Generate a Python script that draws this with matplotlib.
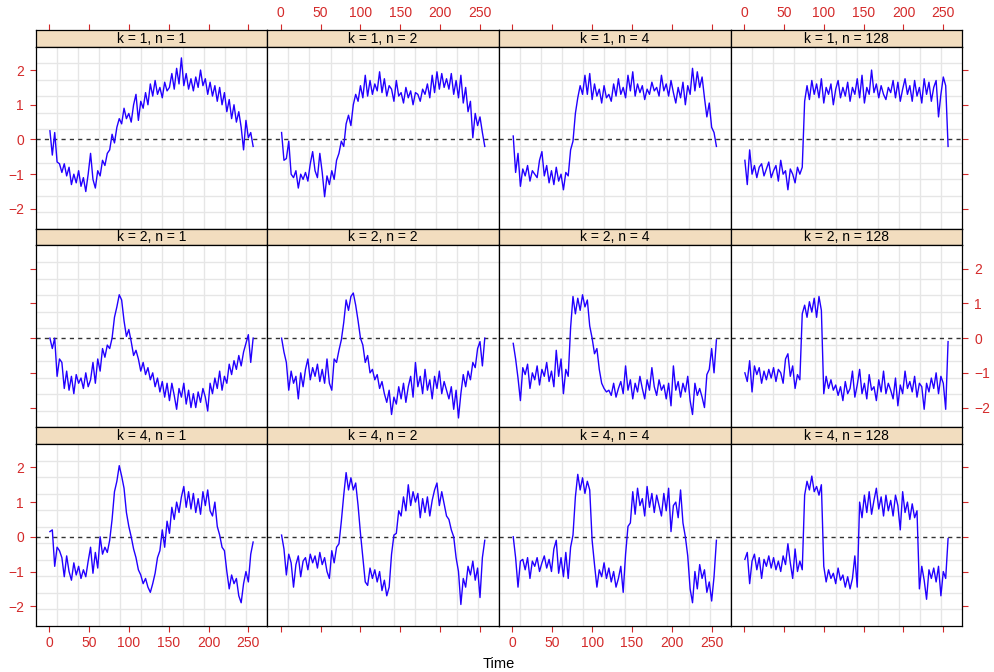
import numpy as np
import matplotlib
matplotlib.use("Agg")
import matplotlib.pyplot as plt

plt.rcParams['font.family'] = ['Liberation Sans', 'DejaVu Sans']

# time points, one reading every 3 steps
time = np.arange(1, 257, 3)
k_vals = [1, 2, 4]
n_vals = [1, 2, 4, 128]
x_ticks = [0, 50, 100, 150, 200, 250]
y_ticks = [-2, -1, 0, 1, 2]

k1_n1 = [0.25, -0.45, 0.2, -0.65, -0.7, -0.95, -0.7, -1.05, -0.8, -1.3,
         -1.0, -1.25, -0.9, -1.35, -1.1, -1.5, -1.0, -0.4, -1.15, -1.4,
         -0.9, -1.05, -0.6, -0.75, -0.4, -0.3, 0.15, -0.1, 0.35, 0.6,
         0.45, 0.9, 0.6, 0.75, 0.5, 1.0, 1.3, 0.55, 1.1, 0.9,
         1.35, 1.0, 1.6, 1.25, 1.7, 1.3, 1.5, 1.2, 1.65, 1.4,
         1.5, 1.9, 1.45, 2.05, 1.6, 2.35, 1.55, 1.9, 1.45, 1.75,
         1.4, 1.8, 1.5, 2.0, 1.55, 1.75, 1.3, 1.65, 1.25, 1.55,
         1.1, 1.5, 1.0, 1.35, 0.8, 1.15, 0.6, 1.0, 0.5, 0.8,
         0.35, -0.3, 0.55, 0.05, 0.2, -0.2]
k1_n2 = [0.2, -0.6, -0.55, -0.05, -1.0, -1.1, -0.9, -1.4, -1.0, -1.15,
         -0.95, -1.2, -0.7, -0.35, -0.9, -1.1, -0.4, -0.95, -1.65, -1.05,
         -1.3, -0.9, -1.15, -0.6, -0.4, -0.05, -0.2, 0.45, 0.7, 0.4,
         1.0, 1.3, 1.1, 1.55, 1.2, 1.85, 1.25, 1.7, 1.3, 1.6,
         1.4, 1.95, 1.35, 1.75, 1.25, 1.55, 1.45, 1.1, 1.7, 1.25,
         1.35, 1.05, 1.5, 1.2, 1.4, 1.0, 1.35, 1.3, 1.1, 1.45,
         1.3, 1.6, 1.2, 1.85, 1.35, 1.95, 1.45, 1.9, 1.5, 1.75,
         1.45, 1.9, 1.3, 1.7, 1.2, 1.85, 1.05, 1.5, 0.8, 1.1,
         0.05, 0.75, 0.4, 0.65, 0.2, -0.2]
k1_n4 = [0.1, -0.95, -0.4, -1.35, -0.85, -1.05, -0.75, -1.2, -0.9, -1.0,
         -1.1, -0.6, -0.35, -1.05, -0.75, -1.25, -0.9, -1.3, -0.8, -1.2,
         -1.0, -1.45, -0.95, -1.05, -0.3, -0.05, 0.75, 1.2, 1.55, 1.3,
         1.85, 1.3, 1.9, 1.15, 1.6, 1.25, 1.45, 1.05, 1.55, 1.2,
         1.3, 1.1, 1.6, 1.25, 1.75, 1.3, 1.5, 1.2, 1.85, 1.4,
         1.95, 1.25, 1.6, 1.35, 1.55, 1.15, 1.45, 1.3, 1.65, 1.4,
         1.5, 1.25, 1.85, 1.4, 1.6, 1.25, 1.7, 1.35, 1.05, 1.5,
         1.2, 1.65, 1.0, 1.55, 1.3, 2.05, 1.4, 1.95, 1.5, 1.8,
         1.2, 0.65, 1.05, 0.35, 0.2, -0.2]
k1_n128 = [-0.6, -1.3, -0.3, -1.0, -0.75, -1.1, -0.8, -0.7, -1.05, -0.85,
           -0.65, -1.1, -0.9, -0.75, -1.2, -0.6, -1.0, -0.9, -1.45, -0.85,
           -1.0, -1.25, -0.8, -1.0, -0.8, 1.1, 1.55, 1.15, 1.7, 1.3,
           1.6, 1.2, 1.75, 1.05, 1.5, 1.3, 1.6, 1.0, 1.45, 1.7,
           1.2, 1.5, 1.25, 1.65, 1.1, 1.5, 1.3, 1.75, 1.2, 1.85,
           1.05, 1.5, 1.3, 2.0, 1.35, 1.6, 1.2, 1.55, 1.3, 1.15,
           1.5, 1.35, 1.7, 1.2, 1.65, 1.1, 1.45, 1.75, 1.3, 1.55,
           1.1, 1.7, 1.25, 1.5, 1.05, 1.75, 1.3, 1.65, 1.1, 1.5,
           1.7, 0.65, 1.3, 1.8, 1.55, -0.2]

k2_n1 = [0.0, -0.3, 0.0, -1.1, -0.6, -0.7, -1.45, -0.95, -1.5, -1.1,
         -1.6, -1.05, -1.3, -1.15, -1.45, -1.0, -1.4, -1.2, -0.7, -1.3,
         -0.6, -0.95, -0.3, -0.55, -0.2, -0.3, 0.0, 0.6, 0.9, 1.25,
         1.1, 0.5, 0.05, 0.25, -0.1, -0.5, -0.35, -0.6, -0.95, -0.7,
         -1.05, -0.85, -1.2, -1.0, -1.4, -1.15, -1.55, -1.25, -1.7, -1.3,
         -1.8, -1.3, -1.65, -2.05, -1.45, -1.7, -1.3, -1.9, -1.5, -2.0,
         -1.6, -2.0, -1.55, -1.85, -1.45, -1.7, -2.1, -1.3, -1.6, -1.15,
         -1.45, -0.95, -1.5, -1.1, -1.3, -0.75, -1.05, -0.65, -0.9, -0.5,
         -0.8, -0.4, -0.15, 0.1, -0.7, 0.0]
k2_n2 = [0.0, -0.4, -0.7, -1.5, -0.95, -1.3, -1.1, -1.75, -1.0, -1.4,
         -0.9, -0.6, -1.2, -0.85, -1.1, -0.75, -1.25, -0.9, -1.3, -0.6,
         -1.3, -1.5, -0.6, -0.7, -0.35, -0.05, 0.45, 1.1, 0.8, 1.2,
         1.3, 0.95, 0.5, 0.0, -0.2, -0.7, -0.5, -1.0, -0.9, -1.2,
         -1.05, -1.45, -1.25, -1.6, -1.85, -1.5, -2.2, -1.7, -1.9, -1.4,
         -1.75, -1.3, -1.85, -1.4, -1.1, -1.7, -0.7, -1.4, -1.1, -1.6,
         -0.9, -1.5, -1.2, -1.75, -1.1, -1.45, -0.95, -1.6, -1.25, -1.5,
         -1.75, -1.4, -2.05, -1.5, -2.3, -1.6, -1.05, -1.4, -0.95, -1.2,
         -0.7, -0.85, -0.3, -0.1, -0.8, 0.0]
k2_n4 = [-0.15, -0.6, -1.15, -1.8, -0.85, -1.05, -0.75, -1.45, -1.0, -1.2,
         -0.8, -1.35, -0.9, -1.1, -0.7, -1.25, -0.95, -1.4, -0.35, -1.1,
         -0.6, -1.6, -0.9, -1.1, 0.3, 1.2, 0.7, 1.15, 0.8, 1.25,
         0.9, 1.1, 0.35, 0.0, -0.45, -0.3, -0.9, -1.3, -1.45, -1.55,
         -1.5, -1.65, -1.3, -1.7, -1.45, -1.25, -1.6, -0.8, -1.5, -1.2,
         -1.75, -1.3, -1.55, -1.1, -1.45, -1.75, -1.2, -1.5, -0.85, -1.4,
         -1.65, -1.2, -1.5, -1.35, -1.75, -1.3, -1.95, -0.8, -1.5, -1.25,
         -1.7, -1.3, -1.55, -1.1, -1.8, -2.2, -1.3, -1.65, -1.45, -1.7,
         -2.0, -1.05, -0.9, -0.3, -1.0, -0.05]
k2_n128 = [-1.0, -1.25, -0.65, -1.55, -0.8, -1.05, -0.85, -1.3, -0.95, -1.2,
           -0.9, -1.15, -0.85, -1.25, -0.9, -1.0, -1.3, -0.6, -0.45, -1.1,
           -0.8, -1.45, -1.05, -1.2, 0.7, 0.95, 0.6, 1.05, 0.75, 1.15,
           0.6, 1.2, 0.8, -1.6, -1.1, -1.45, -1.2, -1.5, -1.35, -1.65,
           -1.4, -1.8, -1.25, -1.6, -1.45, -0.95, -1.7, -1.35, -0.9, -1.6,
           -1.3, -1.75, -1.05, -1.5, -1.4, -1.8, -1.2, -1.55, -0.95, -1.6,
           -1.3, -1.5, -1.75, -1.15, -1.95, -1.35, -1.6, -0.95, -1.45, -1.25,
           -1.55, -1.1, -1.7, -1.3, -1.4, -2.05, -1.3, -1.55, -1.15, -1.45,
           -1.0, -1.6, -1.1, -1.3, -2.05, -0.1]

k4_n1 = [0.15, 0.2, -0.85, -0.3, -0.4, -0.6, -1.15, -0.55, -1.0, -1.25,
         -0.75, -1.1, -0.85, -1.2, -0.95, -1.15, -0.7, -0.3, -1.05, -0.45,
         -0.9, 0.0, -0.5, -0.3, -0.45, -0.1, 0.5, 1.3, 1.6, 2.05,
         1.75, 1.4, 0.7, 0.3, 0.0, -0.35, -0.6, -0.95, -1.1, -1.35,
         -1.2, -1.45, -1.6, -1.35, -1.05, -0.6, -0.4, 0.2, -0.3, 0.45,
         0.1, 0.85, 0.5, 1.0, 0.7, 1.15, 1.45, 0.85, 1.3, 0.8,
         1.25, 0.7, 1.1, 0.65, 1.3, 0.9, 1.35, 0.75, 0.6, 1.0,
         0.3, 0.05, -0.3, -0.4, -1.0, -1.5, -1.1, -1.35, -1.2, -1.7,
         -1.9, -1.35, -1.0, -1.3, -0.5, -0.15]
k4_n2 = [0.05, -0.35, -1.1, -0.5, -0.75, -1.45, -0.8, -0.55, -1.15, -0.7,
         -0.6, -0.95, -0.5, -0.75, -0.55, -0.9, -0.45, -0.8, -0.6, -1.0,
         -1.2, -0.4, -0.75, -0.3, -0.2, 0.45, 1.2, 1.85, 1.35, 1.7,
         1.35, 1.55, 0.9, 0.1, -0.6, -1.3, -1.4, -0.9, -1.2, -0.95,
         -1.3, -1.0, -1.55, -1.25, -1.7, -1.45, -0.5, 0.05, 0.1, 0.75,
         0.6, 1.15, 0.75, 1.5, 0.9, 1.3, 1.0, 1.25, 0.55, 1.1,
         0.7, 1.15, 0.6, 1.05, 1.35, 1.55, 0.9, 1.3, 0.95, 0.6,
         0.5, 0.2, 0.0, -0.6, -1.0, -1.95, -1.2, -1.45, -0.85, -1.1,
         -0.7, -1.25, -0.9, -1.75, -0.6, -0.1]
k4_n4 = [0.0, -0.6, -1.45, -0.7, -0.65, -0.95, -0.6, -1.2, -0.7, -0.85,
         -0.6, -1.0, -0.75, -0.55, -0.9, -0.65, -1.0, -0.35, -0.1, -1.05,
         -0.6, -1.15, -0.45, -1.2, -0.3, 0.05, 1.15, 1.8, 1.35, 1.7,
         1.25, 1.6, 1.35, -0.1, -0.8, -1.45, -0.95, -1.15, -0.75, -1.2,
         -0.9, -1.3, -1.0, -1.45, -1.2, -0.85, -1.6, -0.5, 0.3, 0.4,
         1.3, 0.65, 1.4, 0.9, 1.1, 0.6, 1.45, 0.85, 1.25, 0.7,
         1.2, 0.9, 0.6, 1.25, 0.75, 1.4, 0.15, 0.9, 1.0, 0.55,
         1.35, 0.4, 0.0, -0.55, -1.5, -1.9, -1.0, -1.5, -0.8, -1.2,
         -0.95, -1.6, -1.3, -1.85, -1.15, -0.1]
k4_n128 = [-0.65, -0.45, -1.35, -0.7, -0.5, -0.95, -0.6, -1.2, -0.65, -0.85,
           -0.55, -0.9, -0.6, -0.95, -0.7, -1.0, -0.55, -0.8, -0.2, -0.75,
           -1.2, -0.35, -1.0, -0.7, -0.95, 1.2, 1.6, 1.35, 1.75, 1.3,
           1.45, 1.2, 1.5, -0.85, -1.3, -0.95, -1.2, -1.05, -1.35, -0.9,
           -1.25, -1.1, -1.45, -1.15, -1.5, -1.2, -0.55, -1.45, 1.0, 0.55,
           1.2, 0.7, 1.3, 0.65, 1.05, 1.4, 0.8, 1.15, 0.6, 1.2,
           0.75, 1.05, 0.6, 1.2, 0.9, 0.2, 1.3, 0.7, 1.0, 0.5,
           0.95, 0.55, 0.75, -1.5, -0.85, -1.25, -1.8, -0.95, -1.2, -0.9,
           -1.3, -0.85, -1.7, -1.0, -1.2, -0.05]

series = {
    (1, 1): k1_n1, (1, 2): k1_n2, (1, 4): k1_n4, (1, 128): k1_n128,
    (2, 1): k2_n1, (2, 2): k2_n2, (2, 4): k2_n4, (2, 128): k2_n128,
    (4, 1): k4_n1, (4, 2): k4_n2, (4, 4): k4_n4, (4, 128): k4_n128,
}

W, H = 995, 672
fig = plt.figure(figsize=(W / 100, H / 100), dpi=100)

tick_col = '#d42a2a'
strip_col = '#f2ddbf'
grid_col = '#e6e6e6'

x0, pw = 35.7, 231.65
y0, rh, sh = 30.0, 198.67, 16.8
xlim = (1 - 0.07 * 255, 256 + 0.07 * 255)
ylim = (-2.57, 2.67)

for r, k in enumerate(k_vals):
    for c, n in enumerate(n_vals):
        left = (x0 + c * pw) / W
        strip_top = y0 + r * rh
        ax_s = fig.add_axes([left, 1 - (strip_top + sh) / H, pw / W, sh / H])
        ax = fig.add_axes([left, 1 - (strip_top + rh) / H, pw / W, (rh - sh) / H])

        # grid: 10 evenly spaced lines each way
        for i in range(1, 11):
            ax.axvline(xlim[0] + i * (xlim[1] - xlim[0]) / 11, color=grid_col, lw=1, zorder=0)
            ax.axhline(ylim[0] + i * (ylim[1] - ylim[0]) / 11, color=grid_col, lw=1, zorder=0)
        ax.axhline(0, color='0.2', lw=1, ls=(0, (3, 3)), zorder=1)
        ax.plot(time, series[(k, n)], color='#2200ff', lw=1.0, zorder=2)

        ax.set_xlim(xlim)
        ax.set_ylim(ylim)
        ax.set_xticks(x_ticks)
        ax.set_yticks(y_ticks)
        ax.tick_params(direction='out', length=4.5, width=0.8, color=tick_col,
                       labelcolor=tick_col, labelsize=10,
                       bottom=(r == 2), labelbottom=(r == 2 and c in (0, 2)),
                       top=False, labeltop=False,
                       left=(c == 0), labelleft=(c == 0 and r != 1),
                       right=(c == 3), labelright=(c == 3 and r == 1))
        ax.tick_params(axis='x', pad=3)
        ax.tick_params(axis='y', pad=4)
        for sp in ax.spines.values():
            sp.set_linewidth(0.9)

        ax_s.set_facecolor(strip_col)
        ax_s.set_xlim(xlim)
        ax_s.set_ylim(0, 1)
        ax_s.set_yticks([])
        ax_s.set_xticks(x_ticks)
        ax_s.tick_params(axis='x', direction='out', length=4.5, width=0.8, color=tick_col,
                         labelcolor=tick_col, labelsize=10, pad=3,
                         bottom=False, labelbottom=False,
                         top=(r == 0), labeltop=(r == 0 and c in (1, 3)))
        for sp in ax_s.spines.values():
            sp.set_linewidth(0.9)
        ax_s.text(0.5, 0.48, f"k = {k}, n = {n}", transform=ax_s.transAxes,
                  ha='center', va='center', fontsize=10)

fig.text(499 / W, 1 - 664 / H, "Time", ha='center', va='center', fontsize=10.5)

fig.savefig("out.png", dpi=100)
